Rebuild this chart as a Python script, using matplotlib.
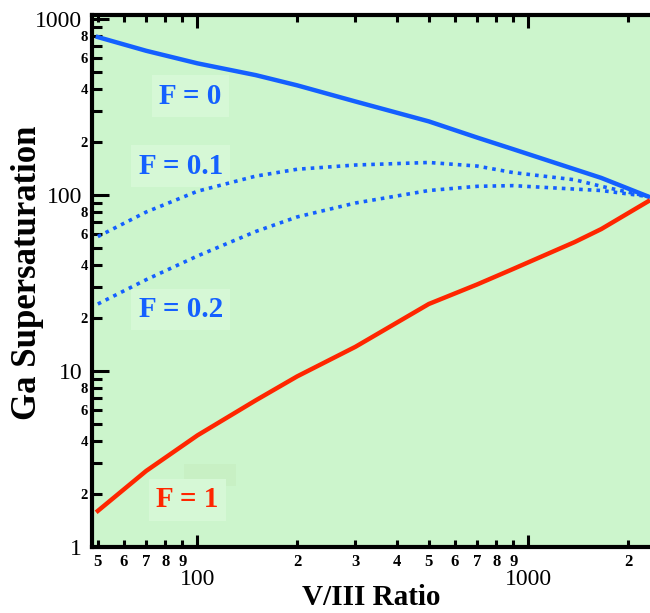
import numpy as np
import matplotlib.pyplot as plt
from matplotlib.ticker import FixedLocator, FixedFormatter
from matplotlib.patches import Rectangle

# V/III ratio samples and supersaturation values
ratio = [50, 70, 100, 150, 200, 300, 500, 700, 900, 1380, 1660, 2300]
f0 = [790, 660, 560, 480, 420, 340, 262, 212, 182, 140, 125, 98]
f01 = [58, 80, 105, 128, 140, 148, 153, 146, 134, 122, 112, 98]
f02 = [24, 33, 45, 62, 75, 90, 106, 112, 113, 108, 106, 98]
f1 = [1.6, 2.7, 4.3, 6.8, 9.3, 13.7, 24, 31, 38, 54, 64, 92]

blue = '#1460ff'
red = '#ff2600'
bg = '#ccf5cc'

plt.rcParams['font.family'] = ['Liberation Serif', 'DejaVu Serif']

fig = plt.figure(figsize=(6.5, 6.13), dpi=100)
ax = fig.add_axes([0.1415, 0.108, 0.8585, 0.867])
ax.set_facecolor(bg)

ax.plot(ratio, f0, color=blue, lw=3.2, zorder=4)
ax.plot(ratio, f01, color=blue, lw=2.6, ls=(0, (1, 1.4)), zorder=4)
ax.plot(ratio, f02, color=blue, lw=2.6, ls=(0, (1, 1.4)), zorder=4)
ax.plot(ratio, f1, color=red, lw=3.2, zorder=4)

ax.set_xscale('log')
ax.set_yscale('log')
ax.set_xlim(48, 2330)
ax.set_ylim(1, 1050)

# x ticks
xmaj = [100, 1000]
xmin = [50, 60, 70, 80, 90, 200, 300, 400, 500, 600, 700, 800, 900, 2000]
xmin_lab = ['5', '6', '7', '8', '9', '2', '3', '4', '5', '6', '7', '8', '9', '2']
ax.xaxis.set_major_locator(FixedLocator(xmaj))
ax.xaxis.set_major_formatter(FixedFormatter(['100', '1000']))
ax.xaxis.set_minor_locator(FixedLocator(xmin))
ax.xaxis.set_minor_formatter(FixedFormatter(xmin_lab))

# y ticks
ymaj = [1, 10, 100, 1000]
ymin = [v * d for d in [1, 10, 100] for v in range(2, 10)]
ymin_lab = [str(v) if v % 2 == 0 else '' for d in [1, 10, 100] for v in range(2, 10)]
ax.yaxis.set_major_locator(FixedLocator(ymaj))
ax.yaxis.set_major_formatter(FixedFormatter(['1', '10', '100', '1000']))
ax.yaxis.set_minor_locator(FixedLocator(ymin))
ax.yaxis.set_minor_formatter(FixedFormatter(ymin_lab))

ax.tick_params(which='both', direction='in', top=True, right=False, width=2.2, colors='black')
ax.tick_params(which='major', labelsize=17)
ax.tick_params(axis='y', which='major', length=12, pad=7)
ax.tick_params(axis='y', which='minor', length=7, labelsize=10.5, pad=3)
ax.tick_params(axis='x', which='major', length=9, pad=16)
ax.tick_params(axis='x', which='minor', length=5, pad=5, labelsize=12)
for lab in ax.get_xminorticklabels() + ax.get_yminorticklabels():
    lab.set_fontweight('bold')
for s in ax.spines.values():
    s.set_linewidth(3)
ax.spines['right'].set_visible(False)

ax.set_xlabel('V/III Ratio', fontsize=21, fontweight='bold', labelpad=-4)
ax.set_ylabel('Ga Supersaturation', fontsize=25, fontweight='bold')
ax.yaxis.set_label_coords(-0.086, 0.515)

# faint patch next to the F = 1 label
ax.add_patch(Rectangle((91, 2.22), 40, 0.73, facecolor='#c8f0c4', edgecolor='none', zorder=0.5))

box = dict(boxstyle='square,pad=0.25', facecolor='#d6f8d6', edgecolor='none')
ax.text(95, 365, 'F = 0', color=blue, fontsize=21, fontweight='bold', ha='center', va='center', bbox=box)
ax.text(89, 146, 'F = 0.1', color=blue, fontsize=21, fontweight='bold', ha='center', va='center', bbox=box)
ax.text(89, 22.3, 'F = 0.2', color=blue, fontsize=21, fontweight='bold', ha='center', va='center', bbox=box)
ax.text(93, 1.85, 'F = 1', color=red, fontsize=21, fontweight='bold', ha='center', va='center', bbox=box)

fig.savefig('out.png', dpi=100)
